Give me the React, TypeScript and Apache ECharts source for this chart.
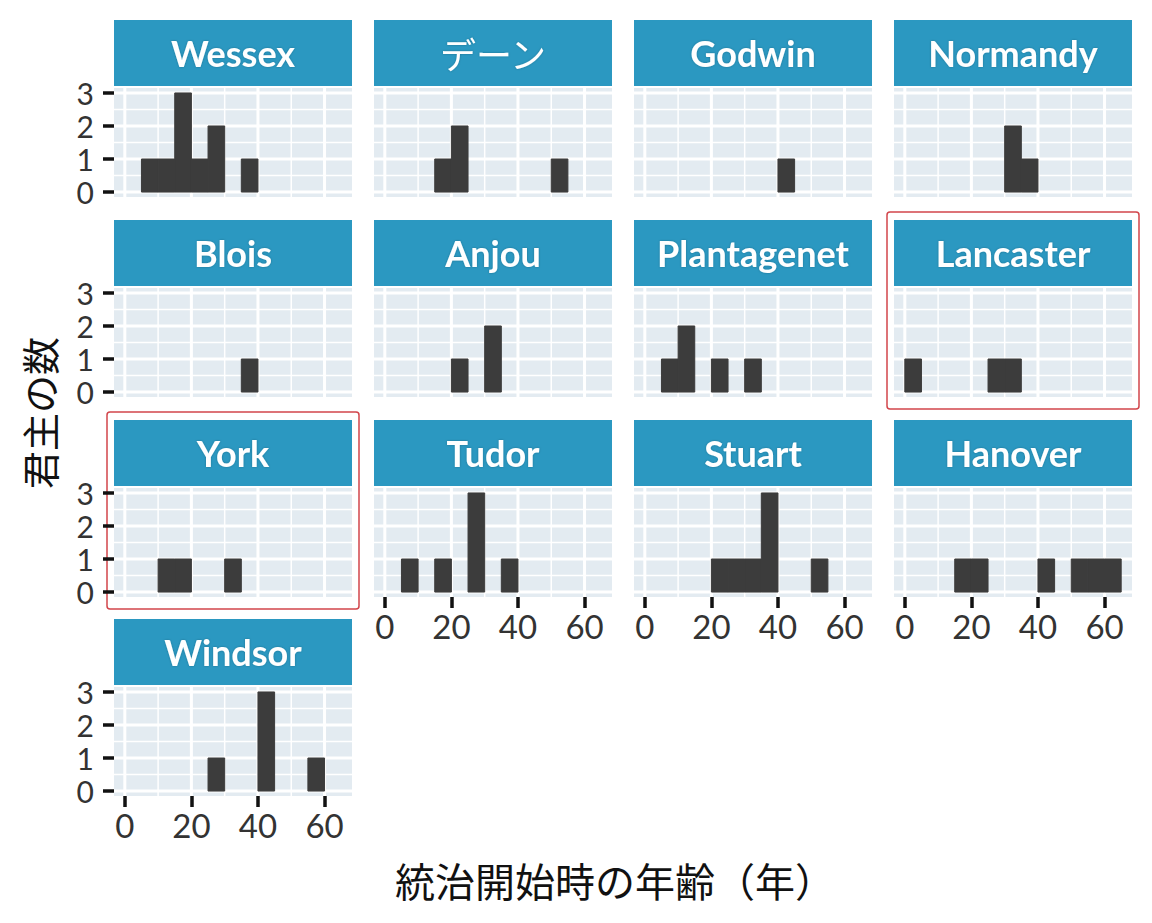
import React, { useEffect, useRef } from "react";
import * as echarts from "echarts";

const dynasties = [
  "Wessex", "デーン", "Godwin", "Normandy",
  "Blois", "Anjou", "Plantagenet", "Lancaster",
  "York", "Tudor", "Stuart", "Hanover",
  "Windsor",
];

// histogram bins of width 5 years, starting at 0
const binStarts = [0, 5, 10, 15, 20, 25, 30, 35, 40, 45, 50, 55, 60];
const binWidth = 5;

const wessex = [0, 1, 1, 3, 1, 2, 0, 1, 0, 0, 0, 0, 0];
const danes = [0, 0, 0, 1, 2, 0, 0, 0, 0, 0, 1, 0, 0];
const godwin = [0, 0, 0, 0, 0, 0, 0, 0, 1, 0, 0, 0, 0];
const normandy = [0, 0, 0, 0, 0, 0, 2, 1, 0, 0, 0, 0, 0];
const blois = [0, 0, 0, 0, 0, 0, 0, 1, 0, 0, 0, 0, 0];
const anjou = [0, 0, 0, 0, 1, 0, 2, 0, 0, 0, 0, 0, 0];
const plantagenet = [0, 1, 2, 0, 1, 0, 1, 0, 0, 0, 0, 0, 0];
const lancaster = [1, 0, 0, 0, 0, 1, 1, 0, 0, 0, 0, 0, 0];
const york = [0, 0, 1, 1, 0, 0, 1, 0, 0, 0, 0, 0, 0];
const tudor = [0, 1, 0, 1, 0, 3, 0, 1, 0, 0, 0, 0, 0];
const stuart = [0, 0, 0, 0, 1, 1, 1, 3, 0, 0, 1, 0, 0];
const hanover = [0, 0, 0, 1, 1, 0, 0, 0, 1, 0, 1, 1, 1];
const windsor = [0, 0, 0, 0, 0, 1, 0, 0, 3, 0, 0, 1, 0];

const counts = [
  wessex, danes, godwin, normandy,
  blois, anjou, plantagenet, lancaster,
  york, tudor, stuart, hanover,
  windsor,
];

const xTicks = [0, 20, 40, 60];
const xMinor = [10, 30, 50];
const yTicks = [0, 1, 2, 3];
const yMinor = [0.5, 1.5, 2.5];

const highlighted = ["Lancaster", "York"];

const xTitle = "統治開始時の年齢（年）";
const yTitle = "君主の数";

// layout
const colLeft = [114, 374, 634, 894];
const rowTop = [88, 288, 488, 687];
const panelW = 238;
const panelH = 109;
const stripH = 66;

const STRIP = "#2B98C1";
const PANEL_BG = "#E3EBF1";
const BAR = "#3c3c3c";
const FONT = "Lato, 'Noto Sans', sans-serif";
const CJK = "'Noto Sans CJK JP', sans-serif";

const App: React.FC = () => {
  const chartRef = useRef<HTMLDivElement>(null);

  useEffect(() => {
    const chart = echarts.init(chartRef.current!, null, { renderer: "svg" });

    const grids: any[] = [];
    const xAxes: any[] = [];
    const yAxes: any[] = [];
    const series: any[] = [];
    const graphics: any[] = [];

    const gridData = [
      ...xTicks.map((v) => [0, v, 3]),
      ...xMinor.map((v) => [0, v, 1.5]),
      ...yTicks.map((v) => [1, v, 3]),
      ...yMinor.map((v) => [1, v, 1.5]),
    ];

    dynasties.forEach((name, i) => {
      const col = i % 4;
      const row = Math.floor(i / 4);
      const left = colLeft[col];
      const top = rowTop[row];
      const showX = row === 3 || (row === 2 && col > 0);
      const showY = col === 0;

      grids.push({
        left,
        top,
        width: panelW,
        height: panelH,
        show: true,
        backgroundColor: PANEL_BG,
        borderWidth: 0,
      });

      xAxes.push({
        gridIndex: i,
        type: "value",
        position: "bottom",
        min: -3.25,
        max: 68.25,
        axisLine: { show: false, onZero: false },
        splitLine: { show: false },
        axisTick: {
          show: showX,
          customValues: xTicks,
          length: 11,
          lineStyle: { color: "#111", width: 3.5 },
        },
        axisLabel: {
          show: showX,
          customValues: xTicks,
          fontSize: 33,
          fontFamily: FONT,
          color: "#333",
          margin: 12,
        },
      });

      yAxes.push({
        gridIndex: i,
        type: "value",
        position: "left",
        min: -0.15,
        max: 3.15,
        axisLine: { show: false, onZero: false },
        splitLine: { show: false },
        axisTick: {
          show: showY,
          customValues: yTicks,
          length: 11,
          lineStyle: { color: "#111", width: 3.5 },
        },
        axisLabel: {
          show: showY,
          customValues: yTicks,
          fontSize: 30,
          fontFamily: FONT,
          color: "#333",
          margin: 20,
          lineHeight: 30,
        },
      });

      // white grid lines
      series.push({
        type: "custom",
        xAxisIndex: i,
        yAxisIndex: i,
        silent: true,
        z: 1,
        data: gridData,
        renderItem: (params: any, api: any) => {
          const cs = params.coordSys;
          const orient = api.value(0);
          const v = api.value(1);
          const w = api.value(2);
          if (orient === 0) {
            const x = api.coord([v, 0])[0];
            return {
              type: "line",
              shape: { x1: x, y1: cs.y, x2: x, y2: cs.y + cs.height },
              style: { stroke: "#fff", lineWidth: w },
            };
          }
          const y = api.coord([0, v])[1];
          return {
            type: "line",
            shape: { x1: cs.x, y1: y, x2: cs.x + cs.width, y2: y },
            style: { stroke: "#fff", lineWidth: w },
          };
        },
      });

      // histogram bars
      const bars = binStarts
        .map((s, k) => [s, s + binWidth, counts[i][k]])
        .filter((d) => d[2] > 0);
      series.push({
        type: "custom",
        name,
        xAxisIndex: i,
        yAxisIndex: i,
        z: 2,
        encode: { x: [0, 1], y: 2 },
        data: bars,
        renderItem: (params: any, api: any) => {
          const p0 = api.coord([api.value(0), api.value(2)]);
          const p1 = api.coord([api.value(1), 0]);
          return {
            type: "rect",
            shape: { x: p0[0], y: p0[1], width: p1[0] - p0[0], height: p1[1] - p0[1] },
            style: { fill: BAR, stroke: BAR, lineWidth: 1 },
          };
        },
      });

      // facet strip
      graphics.push({
        type: "rect",
        left: left,
        top: top - stripH - 2,
        shape: { width: panelW, height: stripH },
        style: { fill: STRIP },
        silent: true,
      });
      const isCjk = name === "デーン";
      graphics.push({
        type: "text",
        x: left + panelW / 2,
        y: top - 2 - stripH / 2,
        style: {
          text: name,
          fill: "#fff",
          fontSize: 36,
          fontFamily: isCjk ? CJK : FONT,
          fontWeight: isCjk ? "normal" : "bold",
          align: "center",
          verticalAlign: "middle",
          textShadowColor: "rgba(0,0,0,0.25)",
          textShadowBlur: 2,
        },
        silent: true,
      });

      if (highlighted.includes(name)) {
        graphics.push({
          type: "rect",
          shape: { x: left - 7, y: top - stripH - 10, width: panelW + 14, height: panelH + stripH + 22, r: 3 },
          style: { fill: "none", stroke: "#D2454B", lineWidth: 1.5 },
          silent: true,
        });
      }
    });

    graphics.push({
      type: "text",
      x: 615,
      y: 880,
      style: {
        text: xTitle,
        fill: "#111",
        fontSize: 40,
        fontFamily: CJK,
        align: "center",
        verticalAlign: "middle",
      },
    });
    graphics.push({
      type: "text",
      x: 38,
      y: 413,
      rotation: Math.PI / 2,
      style: {
        text: yTitle,
        fill: "#111",
        fontSize: 38,
        fontFamily: CJK,
        align: "center",
        verticalAlign: "middle",
      },
    });

    const option: any = {
      animation: false,
      backgroundColor: "#fff",
      grid: grids,
      xAxis: xAxes,
      yAxis: yAxes,
      series,
      graphic: graphics,
    };

    chart.setOption(option);

    return () => {
      chart.dispose();
    };
  }, []);

  return (
    <div
      ref={chartRef}
      style={{ position: "fixed", left: 0, top: 0, width: "1152px", height: "923px" }}
    />
  );
};

export default App;
